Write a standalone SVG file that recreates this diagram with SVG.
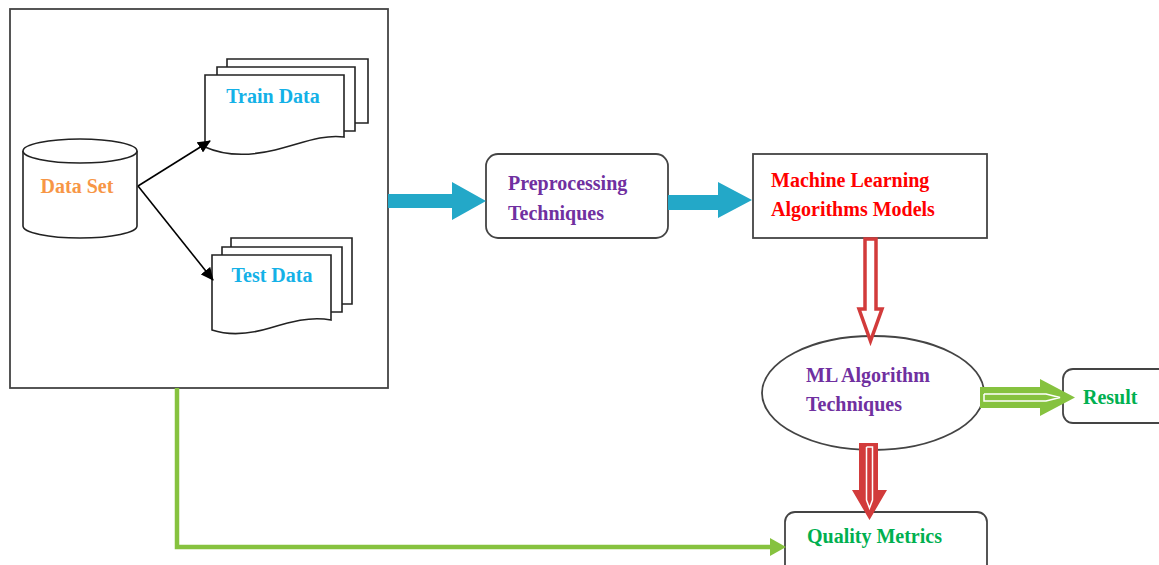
<svg xmlns="http://www.w3.org/2000/svg" width="1159" height="565" viewBox="0 0 1159 565">
<style>
  .t { font-family: "Liberation Serif", "Times New Roman", serif; font-weight: bold; font-size: 20px; }
  .box { fill: #fff; stroke: #444; stroke-width: 1.8; }
  .doc { fill: #fff; stroke: #222; stroke-width: 1.6; }
  .blue { fill: #23a8c8; }
  .redo { fill: #fff; stroke: #d23b3b; stroke-width: 3.5; stroke-linejoin: miter; }
  .redf { fill: #d23b3b; }
  .grn { fill: #86c23f; }
  .inner { fill: none; stroke: #fff; stroke-width: 1.5; }
</style>
<defs>
  <marker id="ah" markerWidth="13" markerHeight="12" refX="12" refY="6" orient="auto" markerUnits="userSpaceOnUse">
    <path d="M0,0 L13,6 L0,12 Z" fill="#000"/>
  </marker>
</defs>
<rect width="1159" height="565" fill="#fff"/>

<g id="dataset-group">
  <rect class="box" x="10" y="9" width="378" height="379"/>
</g>

<g id="dataset">
  <path class="doc" d="M23,151 V226 A57,12 0 0 0 137,226 V151"/>
  <ellipse class="doc" cx="80" cy="151" rx="57" ry="12"/>
  <text class="t" x="77" y="193" text-anchor="middle" fill="#f79646">Data Set</text>
</g>

<g id="train-data">
  <path class="doc" d="M227,67 V59 H368 V123 H355"/>
  <path class="doc" d="M217,75 V67 H355 V131 H344"/>
  <path class="doc" d="M205,75 H344 V137 C322,134 300,144 275,150 C250,156 225,156 205,147 Z"/>
  <text class="t" x="273" y="103" text-anchor="middle" fill="#14b1e7">Train Data</text>
</g>

<g id="test-data">
  <path class="doc" d="M231,247 V238 H352 V304 H342"/>
  <path class="doc" d="M222,255 V247 H342 V312 H331"/>
  <path class="doc" d="M212,255 H331 V320 C310,316 290,322 270,328 C250,334 230,336 212,330 Z"/>
  <text class="t" x="272" y="282" text-anchor="middle" fill="#14b1e7">Test Data</text>
</g>

<g id="preprocessing">
  <rect class="box" x="486" y="154" width="182" height="84" rx="12"/>
  <text class="t" x="508" y="190" fill="#7030a0">Preprocessing</text>
  <text class="t" x="508" y="220" fill="#7030a0">Techniques</text>
</g>

<g id="ml-models">
  <rect class="box" x="753" y="154" width="234" height="84"/>
  <text class="t" x="771" y="187" fill="#ff0000">Machine Learning</text>
  <text class="t" x="771" y="216" fill="#ff0000">Algorithms Models</text>
</g>

<g id="ml-techniques">
  <ellipse class="box" cx="873" cy="393" rx="111" ry="57"/>
  <text class="t" x="806" y="382" fill="#7030a0">ML Algorithm</text>
  <text class="t" x="806" y="411" fill="#7030a0">Techniques</text>
</g>

<g id="result">
  <rect class="box" x="1063" y="369" width="110" height="54" rx="10"/>
  <text class="t" x="1083" y="404" fill="#00b050">Result</text>
</g>

<g id="quality-metrics">
  <rect class="box" x="785" y="512" width="202" height="70" rx="10"/>
  <text class="t" x="807" y="543" fill="#00b050">Quality Metrics</text>
</g>

<g id="connectors">
  <line x1="138" y1="186" x2="210" y2="141" stroke="#000" stroke-width="1.6" marker-end="url(#ah)"/>
  <line x1="138" y1="186" x2="213" y2="280" stroke="#000" stroke-width="1.6" marker-end="url(#ah)"/>

  <polygon class="blue" points="388,194 452,194 452,182 486,201 452,220 452,208 388,208"/>
  <polygon class="blue" points="668,195 718,195 718,182 752,200 718,218 718,210 668,210"/>

  <polygon class="redo" points="865,239 876,239 876,309 882,309 870.5,341 859,309 865,309"/>

  <polygon class="redf" points="859,443 878,443 878,490 887,490 869.5,520 852,490 859,490"/>
  <polyline class="inner" points="866.5,447 866.5,500 869.5,508 872.5,500 872.5,447 866.5,447"/>

  <polygon class="grn" points="980,387 1040,387 1040,379 1075,397.5 1040,416 1040,408 980,408"/>
  <polyline class="inner" points="984,394 1046,394 1060,397.5 1046,401 984,401 984,394"/>

  <polyline points="177,388 177,547 772,547" fill="none" stroke="#86c23f" stroke-width="4.5"/>
  <polygon class="grn" points="770,538 786,547 770,556"/>
</g>
</svg>
